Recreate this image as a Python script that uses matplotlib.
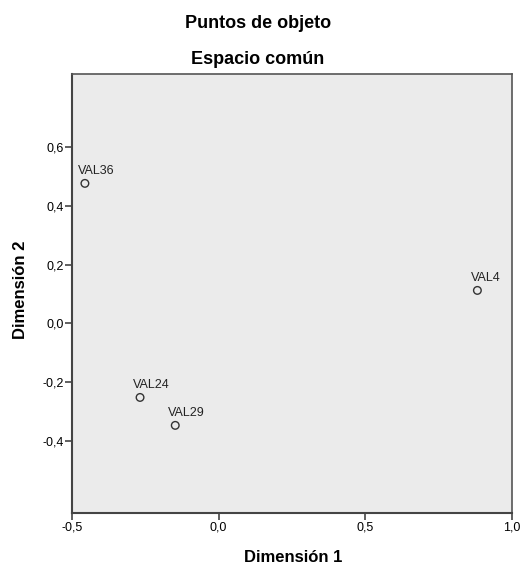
import numpy as np
import matplotlib.pyplot as plt
from matplotlib.ticker import FuncFormatter

plt.rcParams['font.family'] = ['Liberation Sans', 'DejaVu Sans']

etiquetas = ['VAL36', 'VAL24', 'VAL29', 'VAL4']
dim1 = [-0.456, -0.268, -0.148, 0.882]
dim2 = [0.476, -0.252, -0.347, 0.112]
xticks = [-0.5, 0.0, 0.5, 1.0]
yticks = [-0.4, -0.2, 0.0, 0.2, 0.4, 0.6]

W, H = 524, 564
fig = plt.figure(figsize=(W/100, H/100), dpi=100)
ax = fig.add_axes([72/W, 51/H, 440/W, 439/H])
ax.set_facecolor('#ebebeb')

ax.scatter(dim1, dim2, s=30, facecolors='none', edgecolors='#333333', linewidths=1.0, zorder=3)
for i in range(len(etiquetas)):
    ax.annotate(etiquetas[i], (dim1[i], dim2[i]), xytext=(-5, 4.5), textcoords='offset points',
                fontsize=9, color='#222222', ha='left', va='bottom')

ax.set_xlim(-0.5, 1.0)
ax.set_ylim(-0.645, 0.848)
ax.set_xticks(xticks)
ax.set_yticks(yticks)
fmt = FuncFormatter(lambda v, p: ('%.1f' % v).replace('.', ','))
ax.xaxis.set_major_formatter(fmt)
ax.yaxis.set_major_formatter(fmt)
ax.tick_params(direction='out', length=5, width=1.2, color='#444444', labelsize=9, pad=1)

for lado in ['left', 'bottom']:
    ax.spines[lado].set_color('#444444')
    ax.spines[lado].set_linewidth(1.5)
for lado in ['top', 'right']:
    ax.spines[lado].set_color('#555555')
    ax.spines[lado].set_linewidth(1.2)

fig.text(293/W, 1 - 557/H, 'Dimensión 1', ha='center', va='center', fontsize=12, fontweight='bold')
fig.text(21/W, 1 - 290/H, 'Dimensión 2', ha='center', va='center', rotation=90,
         fontsize=12, fontweight='bold')
fig.text(258/W, 1 - 23/H, 'Puntos de objeto', ha='center', va='center', fontsize=13, fontweight='bold')
fig.text(258/W, 1 - 59/H, 'Espacio común', ha='center', va='center', fontsize=13, fontweight='bold')

fig.savefig('out.png', dpi=100)
